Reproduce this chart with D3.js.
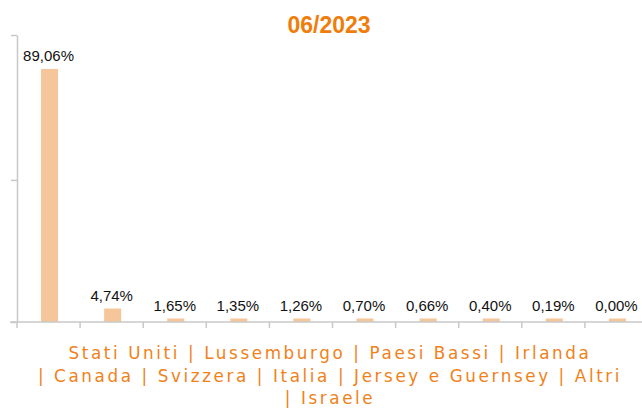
<!DOCTYPE html>
<html>
<head>
<meta charset="utf-8">
<script src="https://cdn.jsdelivr.net/npm/d3@7"></script>
<style>
  body { margin: 0; background: #fff; }
  .axis line, .axis path { stroke: #c8c8c8; stroke-width: 1.5; }
</style>
</head>
<body>
<svg id="chart" width="642" height="410"></svg>
<script>
var title = "06/2023";
var categories = ["Stati Uniti", "Lussemburgo", "Paesi Bassi", "Irlanda", "Canada",
  "Svizzera", "Italia", "Jersey e Guernsey", "Altri", "Israele"];
var values = [89.06, 4.74, 1.65, 1.35, 1.26, 0.70, 0.66, 0.40, 0.19, 0.00];
var yTicks = [0, 50, 101];

//////////////////////////////////////////////////////////////////////////////

var svg = d3.select("#chart");
var svgSize = { left: 17, right: 648, top: 35, bottom: 322 };

var xScale = d3.scaleBand()
  .domain(categories)
  .range([svgSize.left, svgSize.right]);

var yScale = d3.scaleLinear()
  .domain([0, 101])
  .range([svgSize.bottom, svgSize.top]);

var barWidth = 17;
var minBar = 3.5;
var fmt = function(v) { return v.toFixed(2).replace(".", ",") + "%"; };

// title
svg.append("text")
  .attr("x", 329)
  .attr("y", 33)
  .attr("text-anchor", "middle")
  .style("font-family", "'Liberation Sans', Arial, sans-serif")
  .style("font-weight", "bold")
  .style("font-size", "23px")
  .attr("fill", "#f07d0a")
  .text(title);

// bars (tiny values still get a thin visible bar)
function barTop(d) {
  return Math.min(yScale(d), svgSize.bottom - minBar);
}

svg.selectAll("rect.bar")
  .data(values)
  .enter()
  .append("rect")
  .attr("class", "bar")
  .attr("x", function(d, i) {
    return xScale(categories[i]) + (xScale.bandwidth() - barWidth) / 2 + 1;
  })
  .attr("y", function(d) { return d < 2 ? svgSize.bottom - minBar : barTop(d); })
  .attr("width", barWidth)
  .attr("height", function(d) {
    return d < 2 ? minBar : svgSize.bottom - barTop(d);
  })
  .attr("fill", "#f6c69b");

// value labels
svg.selectAll("text.lbl")
  .data(values)
  .enter()
  .append("text")
  .attr("class", "lbl")
  .attr("x", function(d, i) {
    return xScale(categories[i]) + xScale.bandwidth() / 2;
  })
  .attr("y", function(d) {
    return (d < 2 ? svgSize.bottom - minBar : barTop(d)) - 8;
  })
  .attr("text-anchor", "middle")
  .style("font-family", "'Liberation Sans', Arial, sans-serif")
  .style("font-size", "15px")
  .attr("fill", "#111")
  .text(fmt);

// x axis
var xAxis = svg.append("g")
  .attr("class", "axis")
  .attr("transform", "translate(0," + svgSize.bottom + ")");
xAxis.append("line")
  .attr("x1", 10).attr("x2", svgSize.right);
xAxis.selectAll("line.tick")
  .data(categories)
  .enter()
  .append("line")
  .attr("class", "tick")
  .attr("x1", function(d) { return xScale(d); })
  .attr("x2", function(d) { return xScale(d); })
  .attr("y1", 0).attr("y2", 6);

// y axis
svg.append("g")
  .attr("class", "axis")
  .attr("transform", "translate(" + svgSize.left + ",0)")
  .call(d3.axisLeft(yScale).tickValues(yTicks).tickSize(6).tickSizeOuter(0).tickFormat(""));

// category text, wrapped
var tokens = categories.map(function(c, i) { return i ? "| " + c : c; });
var lineHeight = 22.5;
var maxWidth = 600;
var catText = svg.append("text")
  .attr("text-anchor", "middle")
  .style("font-family", "'DejaVu Sans', Verdana, sans-serif")
  .style("font-size", "16.8px")
  .style("letter-spacing", "2.6px")
  .attr("fill", "#f0821a");

var lines = [[]];
var probe = catText.append("tspan");
tokens.forEach(function(t) {
  var cur = lines[lines.length - 1];
  probe.text(cur.concat([t]).join(" "));
  if (cur.length && probe.node().getComputedTextLength() > maxWidth) {
    lines.push([t]);
  } else {
    cur.push(t);
  }
});
probe.remove();

catText.selectAll("tspan")
  .data(lines)
  .enter()
  .append("tspan")
  .attr("x", 330)
  .attr("y", function(d, i) { return 359 + i * lineHeight; })
  .text(function(d) { return d.join(" "); });
</script>
</body>
</html>
